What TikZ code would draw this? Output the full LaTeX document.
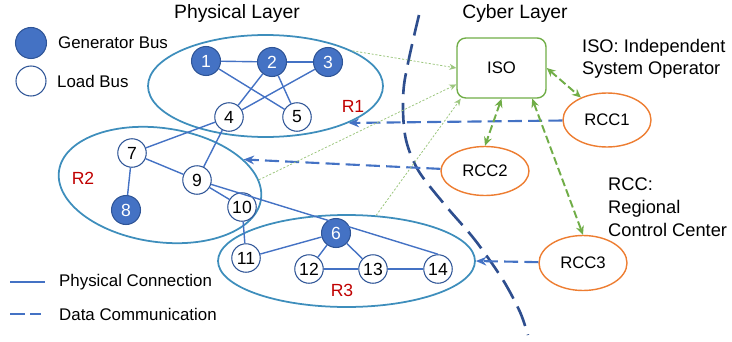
\documentclass[tikz,border=0pt]{standalone}
\usepackage{fontspec}
\setmainfont{Liberation Sans}
\usepackage{xcolor}
\usetikzlibrary{arrows.meta,shapes.geometric,calc}

\definecolor{busblue}{HTML}{4472C4}
\definecolor{busline}{HTML}{2F5597}
\definecolor{regionteal}{HTML}{3E8EBC}
\definecolor{regionred}{HTML}{C00000}
\definecolor{rccorange}{HTML}{ED7D31}
\definecolor{isogreen}{HTML}{70AD47}
\definecolor{feedgreen}{HTML}{9CC67E}
\definecolor{cyberblue}{HTML}{2E4E8E}

\begin{document}
\begin{tikzpicture}[x=0.02cm, y=-0.02cm, >=Stealth,
    genbus/.style={circle, draw=busline, line width=0.6pt, fill=busblue, text=white, minimum size=0.58cm, inner sep=0pt, font=\fontsize{10}{12}\selectfont},
    loadbus/.style={circle, draw=busline, line width=0.6pt, fill=white, minimum size=0.57cm, inner sep=0pt, font=\fontsize{10}{12}\selectfont},
    region/.style={ellipse, draw=regionteal, line width=1pt, inner sep=0pt},
    rcc/.style={ellipse, draw=rccorange, line width=0.8pt, minimum width=1.76cm, inner sep=0pt, font=\fontsize{9.5}{11}\selectfont},
    phys/.style={busblue, line width=0.8pt},
    datacomm/.style={busblue, line width=1.2pt, dash pattern=on 8pt off 3.5pt},
    isolink/.style={{Stealth[length=5pt,width=4.5pt]}-{Stealth[length=5pt,width=4.5pt]}, isogreen, line width=1.1pt, dash pattern=on 4.5pt off 2pt},
    feed/.style={-{Stealth[length=4pt,width=3.5pt]}, feedgreen, line width=0.45pt, dash pattern=on 1.2pt off 1pt},
    rlabel/.style={text=regionred, font=\fontsize{10}{12}\selectfont}]
    \useasboundingbox (0,0) rectangle (732,341);

    % titles and legend
    \node [font=\fontsize{11}{13}\selectfont] (phystitle) at (237,14) {Physical Layer};
    \node [font=\fontsize{11}{13}\selectfont] (cybertitle) at (515,14) {Cyber Layer};
    \node [genbus, minimum size=0.62cm] (leggen) at (31,43) {};
    \node [anchor=west, font=\fontsize{9.6}{11}\selectfont] (leggentext) at (52,43) {Generator Bus};
    \node [loadbus, minimum size=0.6cm] (legload) at (31,81) {};
    \node [anchor=west, font=\fontsize{9.6}{11}\selectfont] (legloadtext) at (51,81) {Load Bus};
    \coordinate (physA) at (10,282);
    \coordinate (physB) at (45,282);
    \coordinate (dataA) at (10,314);
    \coordinate (dataB) at (41,314);
    \draw [phys] (physA) -- (physB);
    \draw [datacomm, dash pattern=on 8.5pt off 3pt] (dataA) -- (dataB);
    \node [anchor=west, font=\fontsize{9.6}{11}\selectfont] (physlegtext) at (53,282) {Physical Connection};
    \node [anchor=west, font=\fontsize{9.6}{11}\selectfont] (datalegtext) at (53,314) {Data Communication};

    % regions
    \node [region, minimum width=4.7cm, minimum height=2.04cm] (R1) at (265.5,86) {};
    \node [region, minimum width=4.08cm, minimum height=2.28cm, rotate=-8] (R2) at (160,185) {};
    \node [region, minimum width=5.14cm, minimum height=1.84cm] (R3) at (346.5,261) {};
    \node [rlabel] (R1label) at (353,106) {R1};
    \node [rlabel] (R2label) at (83,178) {R2};
    \node [rlabel] (R3label) at (342,290) {R3};

    % buses
    \node [genbus] (b1) at (206,61) {1};
    \node [genbus] (b2) at (272,62) {2};
    \node [genbus] (b3) at (328,62) {3};
    \node [loadbus] (b4) at (229,117) {4};
    \node [loadbus] (b5) at (297,117) {5};
    \node [genbus] (b6) at (336,233) {6};
    \node [loadbus] (b7) at (132,153) {7};
    \node [genbus] (b8) at (126,210) {8};
    \node [loadbus] (b9) at (197,180) {9};
    \node [loadbus] (b10) at (242,207) {10};
    \node [loadbus] (b11) at (246,258) {11};
    \node [loadbus] (b12) at (309,269) {12};
    \node [loadbus] (b13) at (373,269) {13};
    \node [loadbus] (b14) at (438,269) {14};

    % physical connections
    \draw [phys] (b1) -- (b2);
    \draw [phys] (b2) -- (b3);
    \draw [phys] (b1) -- (b5);
    \draw [phys] (b2) -- (b4);
    \draw [phys] (b2) -- (b5);
    \draw [phys] (b3) -- (b4);
    \draw [phys] (b4) -- (b7);
    \draw [phys] (b4) -- (b9);
    \draw [phys] (b7) -- (b9);
    \draw [phys] (b7) -- (b8);
    \draw [phys] (b9) -- (b10);
    \draw [phys] (b9) -- (b14.north);
    \draw [phys] (b10) -- (b11);
    \draw [phys] (b11) -- (b6);
    \draw [phys] (b6) -- (b12);
    \draw [phys] (b6) -- (b13);
    \draw [phys] (b12) -- (b13);
    \draw [phys] (b13) -- (b14);

    % cyber layer
    \draw [cyberblue, line width=1.5pt, dash pattern=on 12pt off 5pt]
        plot [smooth] coordinates {(419,15) (404,85) (405,135) (418,170) (445,205) (475,240) (503,280) (520,312) (528,335)};
    \node [rectangle, draw=isogreen, line width=0.8pt, rounded corners=5pt, minimum width=1.78cm, minimum height=1.2cm, font=\fontsize{9.5}{11}\selectfont] (ISO) at (501.5,68) {ISO};
    \node [rcc, minimum height=1.08cm] (RCC1) at (607,120) {RCC1};
    \node [rcc, minimum height=0.98cm] (RCC2) at (485,171) {RCC2};
    \node [rcc, minimum height=1.1cm] (RCC3) at (583,263) {RCC3};
    \node [anchor=north west, align=left, font=\fontsize{10.4}{12.6}\selectfont] (isotext) at (576,33) {ISO: Independent\\System Operator};
    \node [anchor=north west, align=left, font=\fontsize{10.4}{13}\selectfont] (rcctext) at (602,172) {RCC:\\Regional\\Control Center};

    % data communication
    \draw [datacomm, -{Stealth[length=6pt,width=5pt]}] (RCC1) -- (R1.-24);
    \draw [datacomm, -{Stealth[length=6pt,width=5pt]}] (RCC2) -- (R2.25);
    \draw [datacomm, -{Stealth[length=6pt,width=5pt]}] (RCC3) -- (R3.east);
    \draw [isolink] (ISO.east) -- (RCC1);
    \draw [isolink] (ISO.south) -- (RCC2.north);
    \draw [isolink] (ISO.-45) -- (RCC3.north);
    \draw [feed] (R1.22) -- (ISO.west);
    \draw [feed] (R2.11) -- (ISO.200);
    \draw [feed] (R3.57) -- (ISO.217);
\end{tikzpicture}
\end{document}
